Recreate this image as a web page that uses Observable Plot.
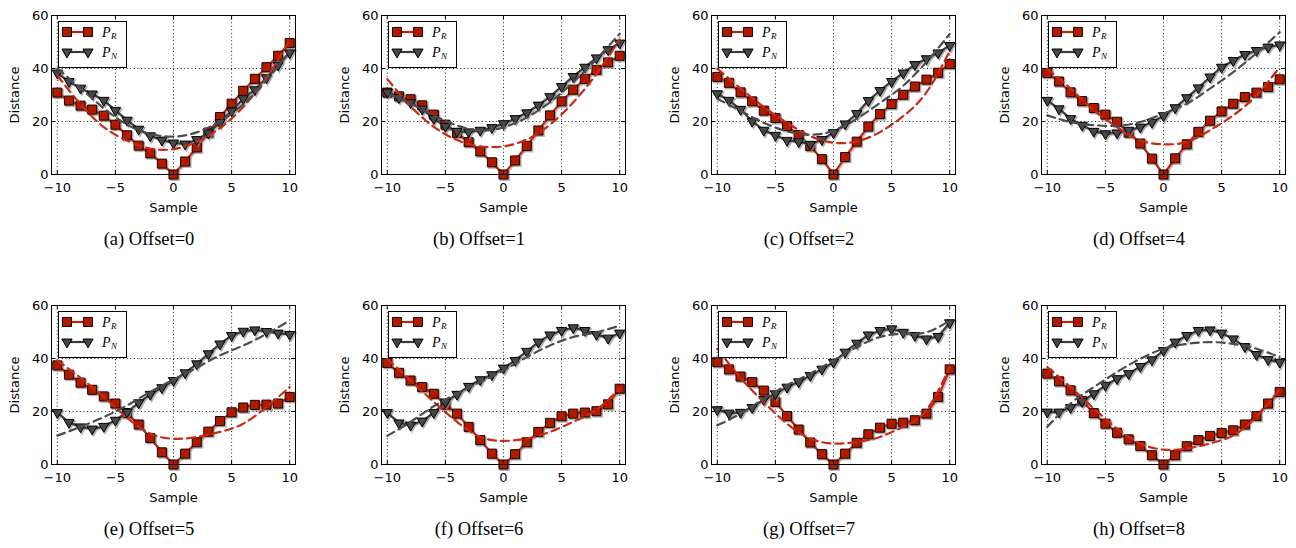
<!DOCTYPE html>
<html>
<head>
<meta charset="utf-8">
<script src="https://cdn.jsdelivr.net/npm/d3@7"></script>
<script src="https://cdn.jsdelivr.net/npm/@observablehq/plot@0.6"></script>
<style>
  html, body { margin: 0; padding: 0; background: #fff; }
  body { width: 1296px; height: 548px; overflow: hidden; position: relative; font-family: "DejaVu Sans", sans-serif; }
  .panel { position: absolute; width: 330px; height: 258px; }
  .panel svg.plot { position: absolute; left: 0; top: 0; }
  .cap { position: absolute; left: 0; width: 298px; top: 229px; text-align: center;
         font-family: "Liberation Serif", "Times New Roman", serif; font-size: 18.5px; line-height: 20px; color: #000; white-space: nowrap; }
  .legend { position: absolute; left: 58px; top: 21px; width: 69px; height: 47px; box-sizing: border-box;
            border: 1px solid #000; background: #fff; }
  .legend svg { position: absolute; left: -1px; top: -1px; }
</style>
</head>
<body>
<script>
// ---------- data ----------
const sample = [-10,-9,-8,-7,-6,-5,-4,-3,-2,-1,0,1,2,3,4,5,6,7,8,9,10];
const fitSample = [-10,-8,-6,-4,-2,0,2,4,6,8,10];
const xTicks = [-10,-5,0,5,10];
const yTicks = [0,20,40,60];
const captions = ["(a) Offset=0","(b) Offset=1","(c) Offset=2","(d) Offset=4","(e) Offset=5","(f) Offset=6","(g) Offset=7","(h) Offset=8"];
const seriesNames = ["P_R","P_N"];

const PR_a = [30.9,27.9,26.0,24.5,22.2,18.8,14.8,10.9,8.0,4.1,0,4.9,10.2,15.8,21.7,26.7,31.6,36.1,40.5,44.8,49.6];
const PN_a = [38.3,35.1,32.6,30.4,28.0,24.2,20.5,17.1,14.6,13.0,11.9,11.5,13.2,15.7,19.6,24.0,28.6,32.0,36.5,41.3,45.9];
const fitR_a = [37.4,26.5,17.9,12.8,9.8,9.6,12.3,17.5,25.5,36.5,50.5];
const fitN_a = [40.0,32.5,25.0,18.8,15.3,14.3,15.9,20.0,26.5,35.5,46.6];

const PR_b = [30.9,29.5,28.4,26.1,22.6,18.8,15.7,12.2,8.7,4.6,0,5.3,10.8,16.6,22.3,27.6,32.0,36.1,39.5,42.3,44.8];
const PN_b = [31.1,29.0,27.1,24.7,21.1,18.2,16.3,16.1,16.7,17.7,19.2,21.1,23.3,26.2,29.4,33.2,37.0,40.5,44.0,47.1,49.6];
const fitR_b = [36.0,25.8,18.0,13.0,10.6,10.6,13.2,18.8,27.2,38.0,51.0];
const fitN_b = [30.5,26.8,22.3,18.5,16.6,17.8,21.5,27.3,34.8,43.5,53.1];

const PR_c = [36.8,34.6,31.0,27.6,24.1,21.3,18.3,14.9,10.7,5.8,0,6.6,12.4,18.1,22.8,26.6,30.1,33.2,35.8,38.4,41.7];
const PN_c = [30.5,28.0,24.6,20.1,16.7,14.8,12.9,12.4,11.4,13.2,15.8,19.1,23.0,27.9,31.7,35.1,38.3,41.5,43.7,45.9,48.7];
const fitR_c = [39.9,32.5,25.5,19.5,14.5,12.0,12.5,16.0,22.0,31.0,46.5];
const fitN_c = [28.6,24.0,19.5,16.3,15.0,16.5,21.0,27.0,33.5,42.5,53.0];

const PR_d = [38.3,35.1,31.0,27.7,25.1,22.6,19.9,15.8,11.7,6.0,0,6.1,11.4,16.1,20.3,23.8,26.7,29.2,30.9,33.0,35.9];
const PN_d = [28.0,24.8,21.1,18.6,16.3,15.4,15.7,16.7,17.9,19.7,22.2,25.2,29.0,32.7,36.8,40.5,43.0,45.3,46.8,48.1,48.9];
const fitR_d = [39.9,32.4,24.2,17.9,12.9,11.4,12.3,16.7,22.3,29.9,40.5];
const fitN_d = [22.3,19.8,18.6,18.4,19.8,23.0,26.7,32.4,38.6,45.8,53.7];

const PR_e = [37.4,33.9,30.9,28.2,25.7,23.0,19.4,15.1,10.0,4.6,0,4.1,8.4,12.4,16.4,19.7,21.5,22.5,22.6,23.0,25.5];
const PN_e = [19.6,15.9,14.2,13.4,14.4,16.7,19.8,23.3,26.5,29.0,31.7,34.6,38.0,41.8,45.5,48.7,50.3,50.8,50.2,49.6,49.1];
const fitR_e = [39.3,32.7,25.5,17.7,11.7,9.7,10.4,12.3,15.4,21.7,29.2];
const fitN_e = [10.9,14.2,17.9,22.3,27.4,32.0,36.5,41.2,44.9,49.3,54.3];

const PR_f = [38.3,34.6,31.7,29.2,26.7,22.6,19.2,14.2,9.2,4.1,0,3.9,8.4,12.3,15.7,18.2,19.2,19.6,20.1,22.7,28.6];
const PN_f = [19.6,15.7,14.9,16.4,19.6,23.6,26.5,29.5,32.0,33.9,36.4,39.3,42.7,46.2,48.9,50.6,51.6,50.6,49.1,47.7,49.6];
const fitR_f = [39.9,31.7,23.6,16.1,10.4,8.9,9.8,12.3,16.1,20.7,28.6];
const fitN_f = [10.8,16.1,22.0,26.7,31.1,35.5,40.5,44.9,48.1,49.9,52.4];

const PR_g = [38.6,35.9,33.2,31.1,27.9,23.6,18.3,13.2,8.3,3.9,0,4.1,8.2,11.4,13.9,15.4,15.8,16.7,19.2,25.5,35.9];
const PN_g = [20.7,19.4,19.7,21.5,24.5,26.7,29.2,31.2,33.6,36.0,38.6,42.4,45.8,48.9,50.6,51.2,49.9,48.7,47.4,48.3,53.5];
const fitR_g = [43.7,32.7,23.5,15.4,9.8,7.9,8.5,10.4,14.2,20.5,36.8];
const fitN_g = [14.8,19.2,24.8,29.9,34.3,39.3,44.3,48.1,49.3,49.9,54.3];

const PR_h = [34.3,31.4,28.0,24.0,19.4,15.4,12.0,9.5,7.0,3.5,0,3.5,6.9,9.2,10.8,11.9,12.9,15.1,18.3,23.0,27.4];
const PN_h = [19.8,19.8,21.5,23.8,26.7,29.9,32.4,34.3,37.0,39.5,43.0,46.2,48.7,50.6,50.8,49.6,47.4,44.5,41.5,39.6,38.6];
const fitR_h = [36.8,29.2,21.1,13.6,7.9,5.6,6.0,7.9,11.0,17.9,28.5];
const fitN_h = [14.2,23.0,29.2,34.9,39.9,43.7,45.5,46.2,45.5,43.7,40.5];

const panelsPR = [PR_a,PR_b,PR_c,PR_d,PR_e,PR_f,PR_g,PR_h];
const panelsPN = [PN_a,PN_b,PN_c,PN_d,PN_e,PN_f,PN_g,PN_h];
const panelsFitR = [fitR_a,fitR_b,fitR_c,fitR_d,fitR_e,fitR_f,fitR_g,fitR_h];
const panelsFitN = [fitN_a,fitN_b,fitN_c,fitN_d,fitN_e,fitN_f,fitN_g,fitN_h];

// ---------- styles ----------
const RED_LINE = "#c4200a", RED_FILL = "#b21a00";
const GRAY_LINE = "#3b3b3b", GRAY_FILL = "#474747";
const RED_DASH = "#c82a14", GRAY_DASH = "#4c4c4c";
const SHADOW = "#8a8a8a";
const W = 330, H = 215, ML = 51, MR = 35, MT = 15, MB = 41;
const innerW = W - ML - MR, innerH = H - MT - MB;

function seriesRows(xs, ys) { return xs.map((x, i) => ({x, y: ys[i]})); }

function makePanel(i) {
  const pr = seriesRows(sample, panelsPR[i]);
  const pn = seriesRows(sample, panelsPN[i]);
  const fr = seriesRows(fitSample, panelsFitR[i]);
  const fn = seriesRows(fitSample, panelsFitN[i]);
  const sq = {x: "x", y: "y", symbol: "square", r: 5.1};
  const tri = {x: "x", y: "y", symbol: "triangle", r: 3.8, rotate: 180};
  const chart = Plot.plot({
    width: W, height: H,
    marginLeft: ML, marginRight: MR, marginTop: MT, marginBottom: MB,
    x: {domain: [-10.5, 10.5]},
    y: {domain: [0, 60]},
    style: {fontFamily: "DejaVu Sans, sans-serif", fontSize: "13px", color: "#000", background: "transparent", overflow: "visible"},
    marks: [
      Plot.gridX(xTicks, {stroke: "#000", strokeOpacity: 1, strokeWidth: 0.9, strokeDasharray: "1,2.6"}),
      Plot.gridY(yTicks, {stroke: "#000", strokeOpacity: 1, strokeWidth: 0.9, strokeDasharray: "1,2.6"}),
      // P_R
      Plot.line(pr, {x: "x", y: "y", stroke: SHADOW, strokeOpacity: 0.55, strokeWidth: 2, dx: 1.3, dy: 1.3}),
      Plot.dot(pr, {...sq, fill: SHADOW, fillOpacity: 0.55, stroke: SHADOW, strokeOpacity: 0.55, dx: 1.3, dy: 1.3}),
      Plot.line(pr, {x: "x", y: "y", stroke: RED_LINE, strokeWidth: 2.2}),
      Plot.dot(pr, {...sq, fill: RED_FILL, stroke: "#1a0000", strokeWidth: 1}),
      // P_N
      Plot.line(pn, {x: "x", y: "y", stroke: SHADOW, strokeOpacity: 0.55, strokeWidth: 2, dx: 1.3, dy: 1.3}),
      Plot.dot(pn, {...tri, fill: SHADOW, fillOpacity: 0.55, stroke: SHADOW, strokeOpacity: 0.55, dx: 1.3, dy: 1.3}),
      Plot.line(pn, {x: "x", y: "y", stroke: GRAY_LINE, strokeWidth: 2.2}),
      Plot.dot(pn, {...tri, fill: GRAY_FILL, stroke: "#000", strokeWidth: 1}),
      // fitted curves
      Plot.line(fr, {x: "x", y: "y", stroke: RED_DASH, strokeWidth: 2.2, strokeDasharray: "8,5", curve: "natural"}),
      Plot.line(fn, {x: "x", y: "y", stroke: GRAY_DASH, strokeWidth: 2.2, strokeDasharray: "8,5", curve: "natural"}),
      // inward ticks on all four sides
      Plot.tickX(xTicks, {x: d => d, insetTop: innerH - 4, stroke: "#000"}),
      Plot.tickX(xTicks, {x: d => d, insetBottom: innerH - 4, stroke: "#000"}),
      Plot.tickY(yTicks, {y: d => d, insetRight: innerW - 4, stroke: "#000"}),
      Plot.tickY(yTicks, {y: d => d, insetLeft: innerW - 4, stroke: "#000"}),
      Plot.frame({stroke: "#000", strokeWidth: 1}),
      Plot.axisX(xTicks, {tickSize: 0, tickPadding: 8, label: "Sample", labelAnchor: "center", labelOffset: 37, labelArrow: "none"}),
      Plot.axisY(yTicks, {tickSize: 0, tickPadding: 3, label: "Distance", labelAnchor: "center", labelOffset: 42, labelArrow: "none"})
    ]
  });
  chart.classList.add("plot");
  return chart;
}

function makeLegend() {
  const lw = 69, lh = 47;
  const svg = d3.create("svg").attr("width", lw).attr("height", lh);
  const rows = [
    {name: seriesNames[0], y: 11, stroke: RED_LINE, fill: RED_FILL, edge: "#1a0000", sym: d3.symbolSquare, size: Math.PI * 5.1 * 5.1, rot: 0},
    {name: seriesNames[1], y: 31, stroke: GRAY_LINE, fill: GRAY_FILL, edge: "#000", sym: d3.symbolTriangle, size: Math.PI * 3.8 * 3.8, rot: 180}
  ];
  for (const r of rows) {
    svg.append("line").attr("x1", 9).attr("x2", 30).attr("y1", r.y).attr("y2", r.y)
      .attr("stroke", r.stroke).attr("stroke-width", 2.2);
    for (const x of [9, 30]) {
      svg.append("path").attr("d", d3.symbol(r.sym, r.size)())
        .attr("transform", `translate(${x},${r.y}) rotate(${r.rot})`)
        .attr("fill", r.fill).attr("stroke", r.edge).attr("stroke-width", 1);
    }
    const [base, sub] = r.name.split("_");
    const t = svg.append("text").attr("x", 44).attr("y", r.y + 4.5)
      .attr("font-family", "Liberation Serif, Times New Roman, serif").attr("font-style", "italic")
      .attr("font-size", 14).attr("fill", "#000");
    t.append("tspan").text(base);
    t.append("tspan").attr("font-size", 9).attr("dy", 2.5).attr("dx", 0.5).text(sub);
  }
  return svg.node();
}

for (let i = 0; i < 8; i++) {
  const div = document.createElement("div");
  div.className = "panel";
  div.style.left = (i % 4) * 330 + "px";
  div.style.top = Math.floor(i / 4) * 290 + "px";
  div.appendChild(makePanel(i));
  const leg = document.createElement("div");
  leg.className = "legend";
  leg.appendChild(makeLegend());
  div.appendChild(leg);
  const cap = document.createElement("div");
  cap.className = "cap";
  cap.textContent = captions[i];
  div.appendChild(cap);
  document.body.appendChild(div);
}
</script>
</body>
</html>
